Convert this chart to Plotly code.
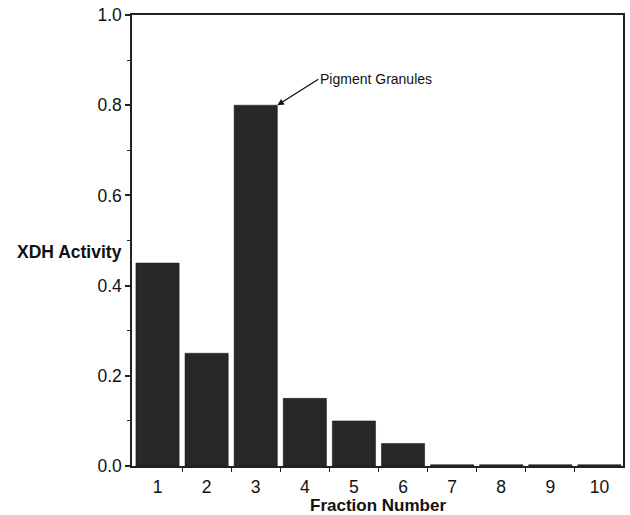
import plotly.graph_objects as go

fractions = [1, 2, 3, 4, 5, 6, 7, 8, 9, 10]
xdh_activity = [0.45, 0.25, 0.80, 0.15, 0.10, 0.05, 0.003, 0.003, 0.003, 0.003]
y_ticks = [0.0, 0.2, 0.4, 0.6, 0.8, 1.0]
y_tick_labels = ["0.0", "0.2", "0.4", "0.6", "0.8", "1.0"]

FONT = "Liberation Sans, Arial, Helvetica, sans-serif"

fig = go.Figure()
fig.add_trace(go.Bar(
    x=fractions, y=xdh_activity, width=0.88,
    marker=dict(color="#282828", line=dict(color="#161616", width=0.5)),
    hoverinfo="skip",
))

fig.update_layout(
    width=630, height=515,
    margin=dict(l=132, r=7, t=15, b=49, autoexpand=False),
    paper_bgcolor="white", plot_bgcolor="white",
    showlegend=False,
    font=dict(family=FONT, color="#111", size=17.5),
    xaxis=dict(
        range=[0.48, 10.48], tickmode="array", tickvals=fractions,
        ticktext=[str(f) for f in fractions], ticks="", showgrid=False,
        showline=True, linecolor="#222", linewidth=1.5, mirror=True,
        zeroline=False, automargin=False, ticklabelstandoff=4,
        minor=dict(tickvals=[1.5, 2.5, 3.5, 4.5, 5.5, 6.5, 7.5, 8.5, 9.5],
                   ticks="outside", ticklen=4, tickcolor="#222", tickwidth=1.2),
    ),
    yaxis=dict(
        range=[0, 1.0], tickmode="array", tickvals=y_ticks, ticktext=y_tick_labels,
        ticks="outside", ticklen=5, tickwidth=1.5, tickcolor="#222",
        showgrid=False, showline=True, linecolor="#222", linewidth=1.5, mirror=True,
        zeroline=False, automargin=False,
        minor=dict(dtick=0.1, ticks="outside", ticklen=3, tickcolor="#222", tickwidth=1.2),
    ),
)

# y-axis title (horizontal, in the left margin)
fig.add_annotation(
    x=0, y=0.474, xref="paper", yref="paper", xanchor="right", yanchor="middle",
    xshift=-8, text="<b>XDH Activity</b>", showarrow=False,
    font=dict(size=17.5, family=FONT),
)
# x-axis title
fig.add_annotation(
    x=0.5, y=0, xref="paper", yref="paper", xanchor="center", yanchor="middle",
    yshift=-39, text="<b>Fraction Number</b>", showarrow=False,
    font=dict(size=17, family=FONT),
)

fig.add_annotation(
    x=3.44, y=0.80, xref="x", yref="y", text="Pigment Granules",
    showarrow=True, arrowhead=2, arrowsize=1, arrowwidth=1.3, arrowcolor="#111",
    ax=41, ay=-26, xanchor="left", yanchor="middle",
    font=dict(size=14, family=FONT, color="#111"),
)

fig.write_html(
    "out.html",
    config={"displayModeBar": False},
    post_script="document.body.style.margin='0';document.body.style.overflow='hidden';",
)
